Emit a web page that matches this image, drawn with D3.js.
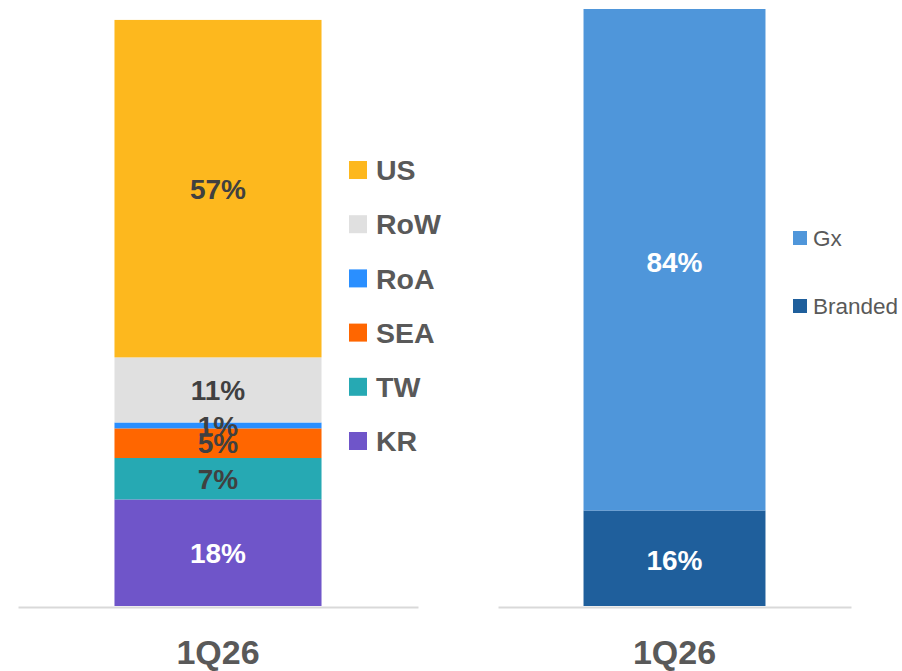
<!DOCTYPE html>
<html><head><meta charset="utf-8">
<script src="https://cdn.jsdelivr.net/npm/d3@7"></script>
<style>body{margin:0;background:#fff;}svg{display:block;font-family:"Liberation Sans",Arial,sans-serif;}</style>
</head><body><svg id="c" width="902" height="671"></svg>
<script>
const category = "1Q26";
const regionSeries = ["KR","TW","SEA","RoA","RoW","US"];
const regionValues = [18,7,5,1,11,57];
const regionColors = ["#6F55C9","#26A9B3","#FF6600","#2A8FFF","#E0E0E0","#FDB81E"];
const regionLegendOrder = ["US","RoW","RoA","SEA","TW","KR"];
const productSeries = ["Branded","Gx"];
const productValues = [16,84];
const productColors = ["#1F5F9C","#4F96DA"];
const productLegendOrder = ["Gx","Branded"];

const svg = d3.select("#c");

function stackOf(vals){let c=0;return vals.map(v=>{const s=[c,c+v];c+=v;return s;});}

// Left chart
const x1 = d3.scaleBand().domain([category]).range([18,418]).paddingInner(0).paddingOuter(0.466);
const y1 = d3.scaleLinear().domain([0,100]).range([606,14]);
const st1 = stackOf(regionValues);
const g1 = svg.append("g");
g1.selectAll("rect").data(regionSeries).join("rect")
  .attr("x",x1(category)).attr("width",x1.bandwidth())
  .attr("y",(d,i)=>y1(st1[i][1])).attr("height",(d,i)=>y1(st1[i][0])-y1(st1[i][1]))
  .attr("fill",(d,i)=>regionColors[i]);
g1.selectAll("text.v").data(regionSeries).join("text").attr("class","v")
  .attr("x",x1(category)+x1.bandwidth()/2)
  .attr("y",(d,i)=>(y1(st1[i][0])+y1(st1[i][1]))/2)
  .attr("dy","0.36em").attr("text-anchor","middle")
  .attr("font-size",28).attr("font-weight","bold")
  .attr("fill",(d,i)=>d==="KR"?"#ffffff":"#404040")
  .text((d,i)=>regionValues[i]+"%");
const ax1 = g1.append("g").attr("transform","translate(0,607)").call(d3.axisBottom(x1).tickSize(0).tickPadding(33));
ax1.select(".domain").attr("stroke","#d9d9d9").attr("stroke-width",2);
ax1.selectAll("text").attr("font-size",34).attr("font-weight","bold").attr("fill","#595959").attr("font-family","Liberation Sans, Arial, sans-serif");

const lg1 = svg.append("g");
const ly1 = d3.scalePoint().domain(regionLegendOrder).range([170,441]);
regionLegendOrder.forEach(k=>{
  const i = regionSeries.indexOf(k);
  lg1.append("rect").attr("x",349).attr("y",ly1(k)-9).attr("width",18).attr("height",18).attr("fill",regionColors[i]);
  lg1.append("text").attr("x",376).attr("y",ly1(k)).attr("dy","0.36em")
    .attr("font-size",28.5).attr("font-weight","bold").attr("fill","#595959").text(k);
});

// Right chart
const x2 = d3.scaleBand().domain([category]).range([498,851]).paddingInner(0).paddingOuter(0.47);
const y2 = d3.scaleLinear().domain([0,100]).range([606,9]);
const st2 = stackOf(productValues);
const g2 = svg.append("g");
g2.selectAll("rect").data(productSeries).join("rect")
  .attr("x",x2(category)).attr("width",x2.bandwidth())
  .attr("y",(d,i)=>y2(st2[i][1])).attr("height",(d,i)=>y2(st2[i][0])-y2(st2[i][1]))
  .attr("fill",(d,i)=>productColors[i]);
g2.selectAll("text.v").data(productSeries).join("text").attr("class","v")
  .attr("x",x2(category)+x2.bandwidth()/2)
  .attr("y",(d,i)=>i===1?262:(y2(st2[i][0])+y2(st2[i][1]))/2+2)
  .attr("dy","0.36em").attr("text-anchor","middle")
  .attr("font-size",28).attr("font-weight","bold").attr("fill","#ffffff")
  .text((d,i)=>productValues[i]+"%");
const ax2 = g2.append("g").attr("transform","translate(0,607)").call(d3.axisBottom(x2).tickSize(0).tickPadding(33));
ax2.select(".domain").attr("stroke","#d9d9d9").attr("stroke-width",2);
ax2.selectAll("text").attr("font-size",34).attr("font-weight","bold").attr("fill","#595959").attr("font-family","Liberation Sans, Arial, sans-serif");

const lg2 = svg.append("g");
const ly2 = d3.scalePoint().domain(productLegendOrder).range([238,306]);
productLegendOrder.forEach(k=>{
  const i = productSeries.indexOf(k);
  lg2.append("rect").attr("x",793).attr("y",ly2(k)-7).attr("width",14).attr("height",14).attr("fill",productColors[i]);
  lg2.append("text").attr("x",813).attr("y",ly2(k)).attr("dy","0.36em")
    .attr("font-size",22.5).attr("fill","#595959").text(k);
});
</script></body></html>
